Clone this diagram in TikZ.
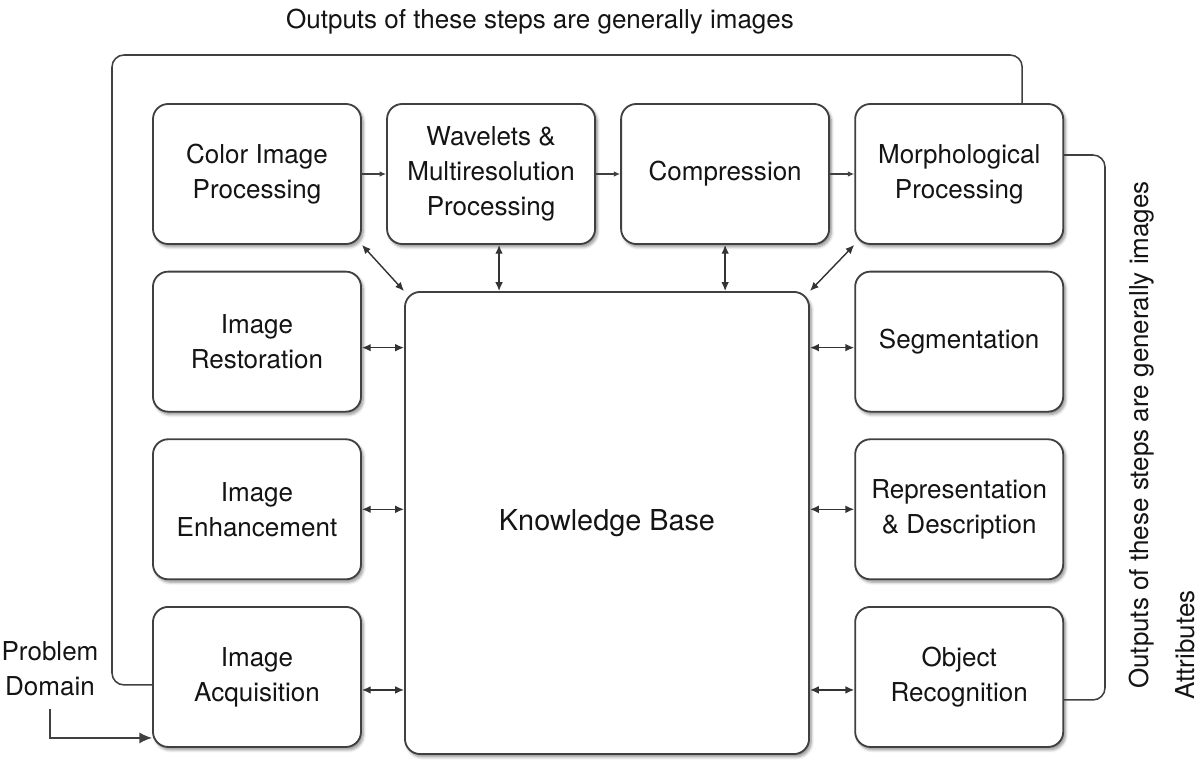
\documentclass[tikz,border=0pt]{standalone}
\usepackage{fontspec}
\setmainfont{TeX Gyre Heros}
\usetikzlibrary{positioning, arrows.meta, calc, shadows.blur}

\begin{document}
\begin{tikzpicture}[x=0.025cm, y=-0.025cm, node distance=4.19cm and 5.85cm, on grid,
  proc/.style={draw=black!75, line width=1.3pt, rounded corners=0.38cm, fill=white,
    minimum width=5.2cm, minimum height=3.5cm, align=center, text=black!92,
    font=\fontsize{18.5}{25}\selectfont,
    blur shadow={shadow xshift=1.5pt, shadow yshift=-2pt, shadow blur steps=6, shadow opacity=45}},
  kbase/.style={proc, minimum width=10.1cm, minimum height=11.55cm, font=\fontsize{20.5}{25}\selectfont},
  lbl/.style={align=center, text=black!92, font=\fontsize{18.5}{25}\selectfont},
  link/.style={draw=black!75, line width=1.1pt, rounded corners=0.3cm},
  flow/.style={draw=black!75, line width=0.9pt, -{Latex[length=1.6mm, width=1.4mm]}},
  both/.style={draw=black!80, line width=1pt, {Latex[length=2.2mm, width=1.9mm]}-{Latex[length=2.2mm, width=1.9mm]}},
  entry/.style={draw=black!75, line width=1.1pt, -{Latex[length=3.2mm, width=2.8mm]}}]
  \useasboundingbox (0,0) rectangle (1200,768);

  \node[proc] (color) at (257,174) {Color Image\\Processing};
  \node[proc] (wave) [right=of color] {Wavelets \&\\Multiresolution\\Processing};
  \node[proc] (comp) [right=of wave] {Compression};
  \node[proc] (morph) [right=of comp] {Morphological\\Processing};
  \node[proc] (rest) [below=of color] {Image\\Restoration};
  \node[proc] (enh) [below=of rest] {Image\\Enhancement};
  \node[proc] (acq) [below=of enh] {Image\\Acquisition};
  \node[proc] (seg) [below=of morph] {Segmentation};
  \node[proc] (repr) [below=of seg] {Representation\\\& Description};
  \node[proc] (objrec) [below=of repr] {Object\\Recognition};
  \node[kbase] (kb) at (607,523) {Knowledge Base};

  \node[lbl] (pd) at (50,669) {Problem\\Domain};
  \node[lbl] (outtop) at (540,22) {Outputs of these steps are generally images};
  \node[lbl, rotate=90] (outright) at (1142,435) {Outputs of these steps are generally images};
  \node[lbl, rotate=90] (attr) at (1185,645) {Attributes};

  \coordinate (lcorner) at (112,55);
  \coordinate (rcorner) at (1105,430);

  % feedback lines
  \draw[link] ($(acq.west)+(0,8)$) -| (lcorner) -| ($(morph.north)+(63,0)$);
  \draw[link] ($(morph.east)+(0,-19)$) -| (rcorner) |- ($(objrec.east)+(0,23)$);

  \draw[flow] (color) -- (wave);
  \draw[flow] (wave) -- (comp);
  \draw[flow] (comp) -- (morph);

  \draw[both] (color.south east) -- (kb.north west);
  \draw[both] ($(wave.south)+(8,0)$) -- ($(wave.south |- kb.north)+(8,0)$);
  \draw[both] (comp.south) -- (comp.south |- kb.north);
  \draw[both] (morph.south west) -- (kb.north east);
  \draw[both] ($(rest.east)+(0,6)$) -- ($(rest.east -| kb.west)+(0,6)$);
  \draw[both] (enh) -- (enh -| kb.west);
  \draw[both] ($(acq.east)+(0,13)$) -- ($(acq.east -| kb.west)+(0,13)$);
  \draw[both] ($(seg.west -| kb.east)+(0,6)$) -- ($(seg.west)+(0,6)$);
  \draw[both] (repr) -- (repr -| kb.east);
  \draw[both] ($(objrec.west -| kb.east)+(0,13)$) -- ($(objrec.west)+(0,13)$);

  \draw[entry] ([yshift=-0.2cm]pd.south) |- ($(acq.west)+(0,61)$);
\end{tikzpicture}
\end{document}
